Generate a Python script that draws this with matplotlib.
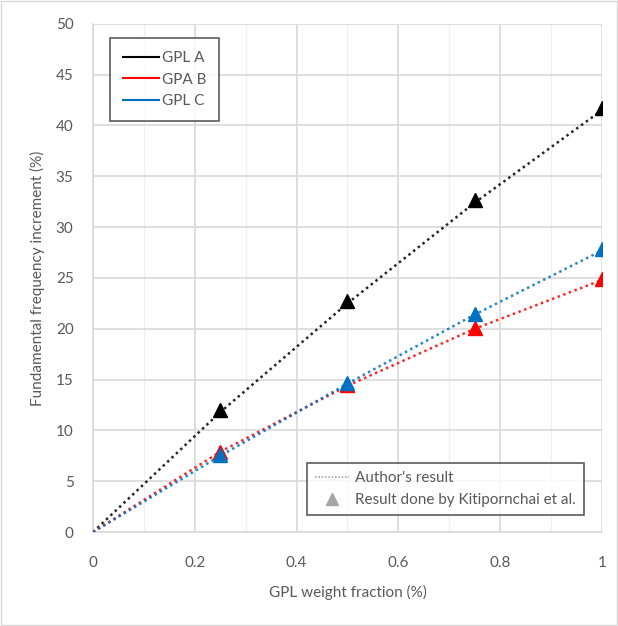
import numpy as np
import matplotlib.pyplot as plt
from matplotlib.lines import Line2D

# GPL weight fraction
x = [0, 0.25, 0.5, 0.75, 1]

# author's result (dotted lines)
author_a = [0, 11.8, 22.5, 32.4, 41.5]
author_b = [0, 7.9, 14.4, 20.0, 24.8]
author_c = [0, 7.5, 14.6, 21.4, 27.7]

# Kitipornchai et al. (triangles)
kit_x = [0.25, 0.5, 0.75, 1]
kit_a = [12.0, 22.7, 32.7, 41.7]
kit_b = [7.9, 14.5, 20.1, 24.9]
kit_c = [7.6, 14.7, 21.5, 27.8]

series = ['GPL A', 'GPA B', 'GPL C']
colors = ['#000000', '#ff0000', '#0070c0']

txt = '#595959'
plt.rcParams['font.family'] = ['Lato', 'DejaVu Sans']
fs = 11

fig = plt.figure(figsize=(6.18, 6.26), dpi=100)
ax = fig.add_axes([0.1505, 0.150, 0.8235, 0.812])

# chart area border
fig.patches.append(plt.Rectangle((0.002, 0.002), 0.996, 0.996, transform=fig.transFigure,
                                 fill=False, edgecolor='#d9d9d9', lw=1))

for ya, yk, c in zip([author_a, author_b, author_c], [kit_a, kit_b, kit_c], colors):
    ax.plot(x, ya, linestyle=(0, (1, 1.4)), color=c, lw=1.8, alpha=0.85, zorder=3)
    ax.plot(kit_x, yk, linestyle='none', marker='^', markersize=10, color=c, zorder=4)

ax.set_xlim(0, 1)
ax.set_ylim(0, 50)
ax.set_xticks(np.arange(0, 1.01, 0.2))
ax.set_xticklabels(['0', '0.2', '0.4', '0.6', '0.8', '1'])
ax.set_xticks(np.arange(0.1, 1.0, 0.2), minor=True)
ax.set_yticks(np.arange(0, 51, 5))
ax.grid(True, which='major', color='#d9d9d9', lw=1.2, zorder=0)
ax.grid(True, which='minor', axis='x', color='#f0f0f0', lw=1, zorder=0)
ax.set_axisbelow(True)
for s in ['top', 'right']:
    ax.spines[s].set_visible(False)
for s in ['left', 'bottom']:
    ax.spines[s].set_color('#d9d9d9')
    ax.spines[s].set_linewidth(1.2)
ax.tick_params(which='both', length=0, colors=txt, labelsize=fs, pad=14)
ax.tick_params(axis='x', pad=17)

ax.set_xlabel('GPL weight fraction (%)', color=txt, fontsize=fs, labelpad=11)
ax.set_ylabel('Fundamental frequency increment (%)', color=txt, fontsize=fs, labelpad=8)

h1 = [Line2D([0], [0], color=c, lw=1.5) for c in colors]
leg1 = ax.legend(h1, series, loc='upper left', bbox_to_anchor=(0.033, 0.972), fontsize=fs,
                 labelcolor=txt, frameon=True, fancybox=False, edgecolor='#333333',
                 handlelength=2.4, handletextpad=0.15, borderpad=0.85, labelspacing=0.5,
                 borderaxespad=0)
leg1.get_frame().set_linewidth(1.2)
ax.add_artist(leg1)

h2 = [Line2D([0], [0], color='#a6a6a6', lw=1.2, linestyle=(0, (1, 1))),
      Line2D([0], [0], color='#a6a6a6', marker='^', markersize=9, linestyle='none')]
leg2 = ax.legend(h2, ["Author's result", 'Result done by Kitipornchai et al.'],
                 loc='lower right', bbox_to_anchor=(0.965, 0.033), fontsize=fs,
                 labelcolor=txt, frameon=True, fancybox=False, edgecolor='#333333',
                 handlelength=2.2, handletextpad=0.4, borderpad=0.55, labelspacing=0.5,
                 borderaxespad=0)
leg2.get_frame().set_linewidth(1.2)

fig.savefig('out.png', dpi=100)
